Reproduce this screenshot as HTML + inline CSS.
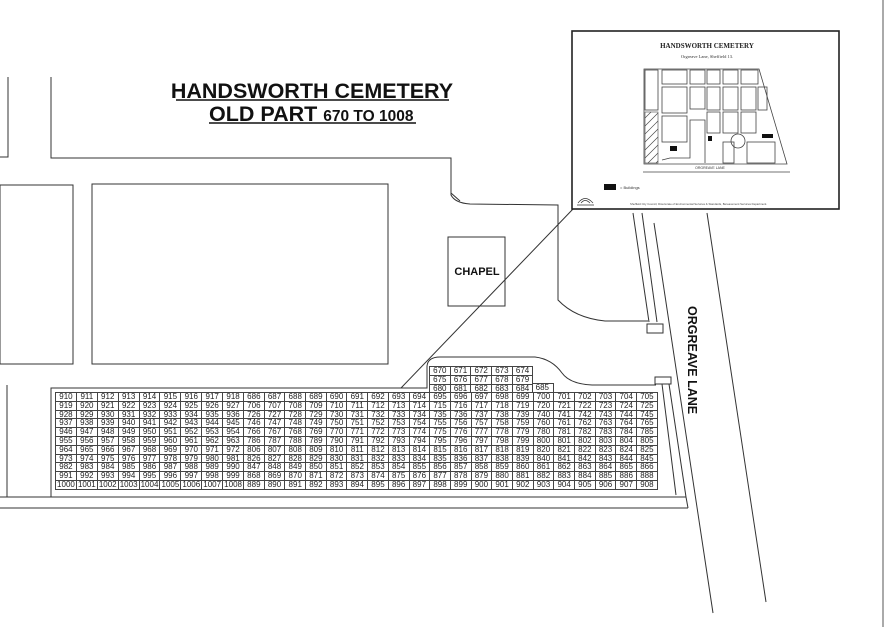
<!DOCTYPE html>
<html><head><meta charset="utf-8">
<style>
html,body{margin:0;padding:0;background:#fff;}
#wrap{position:relative;width:886px;height:627px;overflow:hidden;background:#fff;font-family:"Liberation Sans",sans-serif;}
svg{position:absolute;left:0;top:0;}
table.g{position:absolute;border-collapse:collapse;table-layout:fixed;font-family:"Liberation Sans",sans-serif;font-size:8px;color:#222;}
table.g td{border:1px solid #444;padding:0;text-align:center;line-height:7.8px;height:7.8px;overflow:hidden;white-space:nowrap;}
</style></head><body><div id="wrap">
<svg width="886" height="627" viewBox="0 0 886 627" xmlns="http://www.w3.org/2000/svg">
<g fill="none" stroke="#333" stroke-width="1">
<!-- top left paths -->
<polyline points="0,157 8,157 8,77"/>
<polyline points="51,77 51,158 451,158 451,193 460,201"/>
<path d="M451,180 L451,195 Q455,203 470,204 L558,205 L558,300 Q575,318 605,321 L648,321"/>
<rect x="0" y="185" width="73" height="179"/>
<rect x="92" y="184" width="296" height="180"/>
<rect x="448" y="237" width="57" height="69"/>
<!-- grid outline -->
<polyline points="51,497 51,388 427,388 427,366 Q427,357 440,357"/>
<path d="M427,388 L427,366 Q428,357 440,357 L535,357 Q552,359 562,373 Q570,384 592,385 L656,385"/>
<polyline points="7,385 7,497"/>
<line x1="0" y1="497" x2="686" y2="497"/>
<line x1="0" y1="508" x2="688" y2="508"/>
<line x1="662" y1="384" x2="676" y2="495"/>
<line x1="669" y1="384" x2="686" y2="497"/>
<line x1="686" y1="497" x2="688" y2="508"/>
<rect x="655" y="377" width="16" height="7"/>
<!-- lane lines -->
<line x1="633" y1="213" x2="649" y2="322"/>
<line x1="642" y1="213" x2="657" y2="322"/>
<rect x="647" y="324" width="16" height="9"/>
<line x1="654" y1="223" x2="713" y2="613"/>
<line x1="707" y1="213" x2="766" y2="602"/>
<!-- diagonal -->
<line x1="573" y1="209" x2="401" y2="388"/>
<line x1="883" y1="0" x2="883" y2="627" stroke="#555"/>
</g>
<!-- titles -->
<text x="312" y="98" text-anchor="middle" font-family="Liberation Sans" font-weight="bold" font-size="21.5" fill="#111">HANDSWORTH CEMETERY</text>
<line x1="176" y1="100" x2="449" y2="100" stroke="#111" stroke-width="1.5"/>
<text x="209" y="121" font-family="Liberation Sans" font-weight="bold" font-size="21.5" fill="#111">OLD PART <tspan font-size="15.5">670 TO 1008</tspan></text>
<line x1="209" y1="123" x2="416" y2="123" stroke="#111" stroke-width="1.5"/>
<text x="477" y="275" text-anchor="middle" font-family="Liberation Sans" font-weight="bold" font-size="11" fill="#111">CHAPEL</text>
<text transform="translate(688,306) rotate(90)" font-family="Liberation Sans" font-weight="bold" font-size="12.5" fill="#111">ORGREAVE LANE</text>
<!-- inset -->
<rect x="572" y="31" width="267" height="178" fill="#fff" stroke="#222" stroke-width="1.6"/>
<text x="707" y="48" text-anchor="middle" font-family="Liberation Serif" font-weight="bold" font-size="7" fill="#222">HANDSWORTH CEMETERY</text>
<text x="707" y="58" text-anchor="middle" font-family="Liberation Serif" font-size="4.5" fill="#333">Orgreave Lane, Sheffield 13.</text>
<g fill="none" stroke="#444" stroke-width="0.8">
<polygon points="644,69 759,69 787,164 644,164"/>
<rect x="645" y="70" width="13" height="40"/>
<rect x="662" y="70" width="25" height="14"/>
<rect x="662" y="87" width="25" height="26"/>
<rect x="662" y="116" width="25" height="26"/>
<rect x="690" y="70" width="15" height="14"/>
<rect x="690" y="87" width="15" height="22"/>
<rect x="707" y="70" width="13" height="14"/>
<rect x="723" y="70" width="15" height="14"/>
<rect x="741" y="70" width="17" height="14"/>
<rect x="707" y="87" width="13" height="23"/>
<rect x="723" y="87" width="15" height="23"/>
<rect x="741" y="87" width="15" height="23"/>
<rect x="758" y="87" width="9" height="23"/>
<rect x="707" y="112" width="13" height="21"/>
<rect x="723" y="112" width="15" height="21"/>
<rect x="741" y="112" width="15" height="21"/>
<circle cx="738" cy="141" r="7"/>
<rect x="723" y="142" width="11" height="21"/>
<rect x="747" y="142" width="28" height="21"/>
<polyline points="662,160 670,158 690,158 690,120 705,120 705,163"/>
<line x1="643" y1="172" x2="790" y2="172"/>
</g>
<g stroke="#444" stroke-width="0.6">
<rect x="645" y="112" width="13" height="51" fill="#fff"/>
<line x1="645" y1="118" x2="651" y2="112"/><line x1="645" y1="126" x2="658" y2="113"/><line x1="645" y1="134" x2="658" y2="121"/><line x1="645" y1="142" x2="658" y2="129"/><line x1="645" y1="150" x2="658" y2="137"/><line x1="645" y1="158" x2="658" y2="145"/><line x1="648" y1="163" x2="658" y2="153"/><line x1="656" y1="163" x2="658" y2="161"/>
</g>
<rect x="670" y="146" width="7" height="5" fill="#111"/>
<rect x="762" y="134" width="11" height="4" fill="#111"/>
<rect x="708" y="136" width="4" height="5" fill="#111"/>
<text x="710" y="169" text-anchor="middle" font-family="Liberation Sans" font-size="3.5" fill="#333">ORGREAVE LANE</text>
<rect x="604" y="184" width="12" height="6" fill="#111"/>
<text x="620" y="189" font-family="Liberation Sans" font-size="4" fill="#333">= Buildings</text>
<text x="630" y="205" font-family="Liberation Sans" font-size="2.8" fill="#444">Sheffield City Council, Directorate of Environmental Services &amp; Standards, Bereavement Services Department.</text>
<g fill="none" stroke="#333" stroke-width="0.7"><path d="M578,203 Q585,194 593,203"/><path d="M581,203 Q585,198 590,203"/><line x1="577" y1="205" x2="594" y2="205"/></g>
</svg>

<table class="g" style="left:55px;top:392px;width:602px;">
<colgroup><col style="width:20.9px"><col style="width:20.9px"><col style="width:20.9px"><col style="width:20.9px"><col style="width:20.9px"><col style="width:20.9px"><col style="width:20.9px"><col style="width:20.9px"><col style="width:20.9px"><col style="width:20.7px"><col style="width:20.7px"><col style="width:20.7px"><col style="width:20.7px"><col style="width:20.7px"><col style="width:20.7px"><col style="width:20.7px"><col style="width:20.7px"><col style="width:20.7px"><col style="width:20.7px"><col style="width:20.7px"><col style="width:20.7px"><col style="width:20.7px"><col style="width:20.7px"><col style="width:20.7px"><col style="width:20.7px"><col style="width:20.7px"><col style="width:20.7px"><col style="width:20.7px"><col style="width:20.7px"></colgroup>
<tr><td>910</td><td>911</td><td>912</td><td>913</td><td>914</td><td>915</td><td>916</td><td>917</td><td>918</td><td>686</td><td>687</td><td>688</td><td>689</td><td>690</td><td>691</td><td>692</td><td>693</td><td>694</td><td>695</td><td>696</td><td>697</td><td>698</td><td>699</td><td>700</td><td>701</td><td>702</td><td>703</td><td>704</td><td>705</td></tr>
<tr><td>919</td><td>920</td><td>921</td><td>922</td><td>923</td><td>924</td><td>925</td><td>926</td><td>927</td><td>706</td><td>707</td><td>708</td><td>709</td><td>710</td><td>711</td><td>712</td><td>713</td><td>714</td><td>715</td><td>716</td><td>717</td><td>718</td><td>719</td><td>720</td><td>721</td><td>722</td><td>723</td><td>724</td><td>725</td></tr>
<tr><td>928</td><td>929</td><td>930</td><td>931</td><td>932</td><td>933</td><td>934</td><td>935</td><td>936</td><td>726</td><td>727</td><td>728</td><td>729</td><td>730</td><td>731</td><td>732</td><td>733</td><td>734</td><td>735</td><td>736</td><td>737</td><td>738</td><td>739</td><td>740</td><td>741</td><td>742</td><td>743</td><td>744</td><td>745</td></tr>
<tr><td>937</td><td>938</td><td>939</td><td>940</td><td>941</td><td>942</td><td>943</td><td>944</td><td>945</td><td>746</td><td>747</td><td>748</td><td>749</td><td>750</td><td>751</td><td>752</td><td>753</td><td>754</td><td>755</td><td>756</td><td>757</td><td>758</td><td>759</td><td>760</td><td>761</td><td>762</td><td>763</td><td>764</td><td>765</td></tr>
<tr><td>946</td><td>947</td><td>948</td><td>949</td><td>950</td><td>951</td><td>952</td><td>953</td><td>954</td><td>766</td><td>767</td><td>768</td><td>769</td><td>770</td><td>771</td><td>772</td><td>773</td><td>774</td><td>775</td><td>776</td><td>777</td><td>778</td><td>779</td><td>780</td><td>781</td><td>782</td><td>783</td><td>784</td><td>785</td></tr>
<tr><td>955</td><td>956</td><td>957</td><td>958</td><td>959</td><td>960</td><td>961</td><td>962</td><td>963</td><td>786</td><td>787</td><td>788</td><td>789</td><td>790</td><td>791</td><td>792</td><td>793</td><td>794</td><td>795</td><td>796</td><td>797</td><td>798</td><td>799</td><td>800</td><td>801</td><td>802</td><td>803</td><td>804</td><td>805</td></tr>
<tr><td>964</td><td>965</td><td>966</td><td>967</td><td>968</td><td>969</td><td>970</td><td>971</td><td>972</td><td>806</td><td>807</td><td>808</td><td>809</td><td>810</td><td>811</td><td>812</td><td>813</td><td>814</td><td>815</td><td>816</td><td>817</td><td>818</td><td>819</td><td>820</td><td>821</td><td>822</td><td>823</td><td>824</td><td>825</td></tr>
<tr><td>973</td><td>974</td><td>975</td><td>976</td><td>977</td><td>978</td><td>979</td><td>980</td><td>981</td><td>826</td><td>827</td><td>828</td><td>829</td><td>830</td><td>831</td><td>832</td><td>833</td><td>834</td><td>835</td><td>836</td><td>837</td><td>838</td><td>839</td><td>840</td><td>841</td><td>842</td><td>843</td><td>844</td><td>845</td></tr>
<tr><td>982</td><td>983</td><td>984</td><td>985</td><td>986</td><td>987</td><td>988</td><td>989</td><td>990</td><td>847</td><td>848</td><td>849</td><td>850</td><td>851</td><td>852</td><td>853</td><td>854</td><td>855</td><td>856</td><td>857</td><td>858</td><td>859</td><td>860</td><td>861</td><td>862</td><td>863</td><td>864</td><td>865</td><td>866</td></tr>
<tr><td>991</td><td>992</td><td>993</td><td>994</td><td>995</td><td>996</td><td>997</td><td>998</td><td>999</td><td>868</td><td>869</td><td>870</td><td>871</td><td>872</td><td>873</td><td>874</td><td>875</td><td>876</td><td>877</td><td>878</td><td>879</td><td>880</td><td>881</td><td>882</td><td>883</td><td>884</td><td>885</td><td>886</td><td>888</td></tr>
<tr><td>1000</td><td>1001</td><td>1002</td><td>1003</td><td>1004</td><td>1005</td><td>1006</td><td>1007</td><td>1008</td><td>889</td><td>890</td><td>891</td><td>892</td><td>893</td><td>894</td><td>895</td><td>896</td><td>897</td><td>898</td><td>899</td><td>900</td><td>901</td><td>902</td><td>903</td><td>904</td><td>905</td><td>906</td><td>907</td><td>908</td></tr>
</table>

<table class="g" style="left:429px;top:366px;width:103.5px;">
<colgroup><col style="width:20.7px"><col style="width:20.7px"><col style="width:20.7px"><col style="width:20.7px"><col style="width:20.7px"></colgroup>
<tr><td>670</td><td>671</td><td>672</td><td>673</td><td>674</td></tr>
<tr><td>675</td><td>676</td><td>677</td><td>678</td><td>679</td></tr>
<tr><td>680</td><td>681</td><td>682</td><td>683</td><td>684</td></tr>
</table>
<table class="g" style="left:532px;top:383px;width:20.7px;">
<tr><td style="width:20.7px;border-left:none">685</td></tr>
</table>
</div></body></html>
